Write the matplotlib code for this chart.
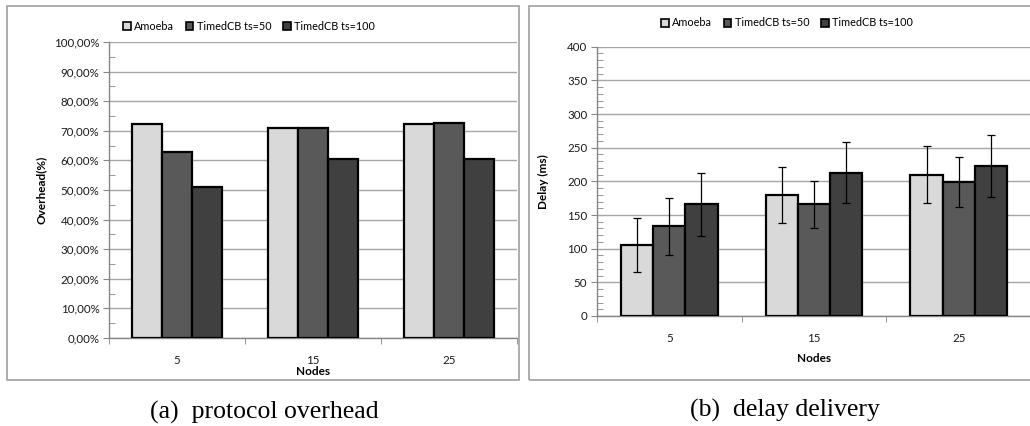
import matplotlib
matplotlib.use("Agg")
import matplotlib.pyplot as plt
from matplotlib.patches import Rectangle, Patch
from matplotlib.ticker import MultipleLocator, FixedLocator, FuncFormatter
import numpy as np

nodes = ["5", "15", "25"]
series = ["Amoeba", "TimedCB ts=50", "TimedCB ts=100"]
colors = ["#d9d9d9", "#595959", "#404040"]

overhead_amoeba = [72.3, 71.1, 72.4]
overhead_ts50 = [62.7, 70.8, 72.6]
overhead_ts100 = [51.1, 60.5, 60.5]

delay_amoeba = [105, 180, 210]
delay_ts50 = [133, 166, 199]
delay_ts100 = [166, 213, 223]
delay_err_amoeba = [40, 42, 42]
delay_err_ts50 = [42, 35, 37]
delay_err_ts100 = [47, 45, 46]

W, H = 1030, 426
fig = plt.figure(figsize=(W / 100, H / 100), dpi=100)
fig.patch.set_facecolor("white")

FONT = "Lato"
FS = 8.3
tick_color = "#1a1a1a"
spine_color = "#868686"
grid_color = "#a6a6a6"

def fx(px):
    return px / W

def fy(py):
    return 1 - py / H

# panel frames
fig.add_artist(Rectangle((fx(7), fy(380)), fx(512), 374 / H, transform=fig.transFigure,
                         fill=False, edgecolor="#a0a0a0", lw=1.2))
fig.add_artist(Rectangle((fx(529), fy(380)), fx(520), 374 / H, transform=fig.transFigure,
                         fill=False, edgecolor="#a0a0a0", lw=1.2))

bw = 0.222
x = np.arange(len(nodes))


def style_axes(ax, ymax, major, minor, fmt):
    ax.set_xlim(-0.5, 2.5)
    ax.set_ylim(0, ymax)
    for s in ["top", "right"]:
        ax.spines[s].set_visible(False)
    for s in ["left", "bottom"]:
        ax.spines[s].set_color(spine_color)
        ax.spines[s].set_linewidth(1.0)
    ax.yaxis.set_major_locator(MultipleLocator(major))
    ax.yaxis.set_minor_locator(MultipleLocator(minor))
    ax.yaxis.set_major_formatter(FuncFormatter(fmt))
    ax.tick_params(axis="y", which="major", direction="out", length=4, color=spine_color,
                   labelsize=FS, labelcolor=tick_color, pad=3)
    ax.tick_params(axis="y", which="minor", direction="in", length=4, color=spine_color)
    ax.set_xticks(x)
    ax.set_xticklabels(nodes)
    ax.xaxis.set_minor_locator(FixedLocator([-0.5, 0.5, 1.5, 2.5]))
    ax.tick_params(axis="x", which="major", length=0, labelsize=FS, labelcolor=tick_color)
    ax.tick_params(axis="x", which="minor", direction="out", length=4, color=spine_color)
    ax.grid(axis="y", which="major", color=grid_color, lw=1.0)
    ax.set_axisbelow(True)
    for lab in ax.get_xticklabels() + ax.get_yticklabels():
        lab.set_fontfamily(FONT)


# Left: overhead
ax1 = fig.add_axes([fx(109), fy(338), fx(517 - 109), (338 - 42) / H])
over = [overhead_amoeba, overhead_ts50, overhead_ts100]
for j, vals in enumerate(over):
    ax1.bar(x + (j - 1) * bw, vals, bw, color=colors[j], edgecolor="black", lw=1.6, zorder=3)
style_axes(ax1, 100, 10, 5, lambda v, p: f"{v:.2f}%".replace(".", ","))
ax1.tick_params(axis="x", which="major", pad=12)
ax1.set_ylabel("Overhead(%)", fontfamily=FONT, fontweight="bold", fontsize=8.5, labelpad=5)
ax1.set_xlabel("Nodes", fontfamily=FONT, fontweight="bold", fontsize=8.5, labelpad=0)

# Right: delay
ax2 = fig.add_axes([fx(597), fy(316), fx(1031 - 597), (316 - 46.7) / H])
dly = [delay_amoeba, delay_ts50, delay_ts100]
errs = [delay_err_amoeba, delay_err_ts50, delay_err_ts100]
for j, vals in enumerate(dly):
    ax2.bar(x + (j - 1) * bw, vals, bw, color=colors[j], edgecolor="black", lw=1.6, zorder=3,
            yerr=errs[j], error_kw=dict(ecolor="black", elinewidth=0.9, capsize=3, capthick=0.9, zorder=4))
style_axes(ax2, 400, 50, 10, lambda v, p: f"{int(v)}")
ax2.tick_params(axis="x", which="major", pad=12)
ax2.set_ylabel("Delay (ms)", fontfamily=FONT, fontweight="bold", fontsize=8.5, labelpad=13)
ax2.set_xlabel("Nodes", fontfamily=FONT, fontweight="bold", fontsize=8.5, labelpad=7)

handles = [Patch(facecolor=colors[j], edgecolor="black", lw=1.2, label=series[j]) for j in range(3)]
for cx, cy in [(249, 26), (787, 23)]:
    fig.legend(handles=handles, loc="center", bbox_to_anchor=(fx(cx), fy(cy)), ncol=3,
               frameon=False, handlelength=0.7, handleheight=0.7, handletextpad=0.3,
               columnspacing=1.1, prop=dict(family=FONT, size=7.8))

fig.text(fx(264), fy(412), "(a)  protocol overhead", ha="center", va="center",
         fontfamily="Liberation Serif", fontsize=18.5)
fig.text(fx(785), fy(410), "(b)  delay delivery", ha="center", va="center",
         fontfamily="Liberation Serif", fontsize=18.5)

fig.savefig("out.png", dpi=100)
